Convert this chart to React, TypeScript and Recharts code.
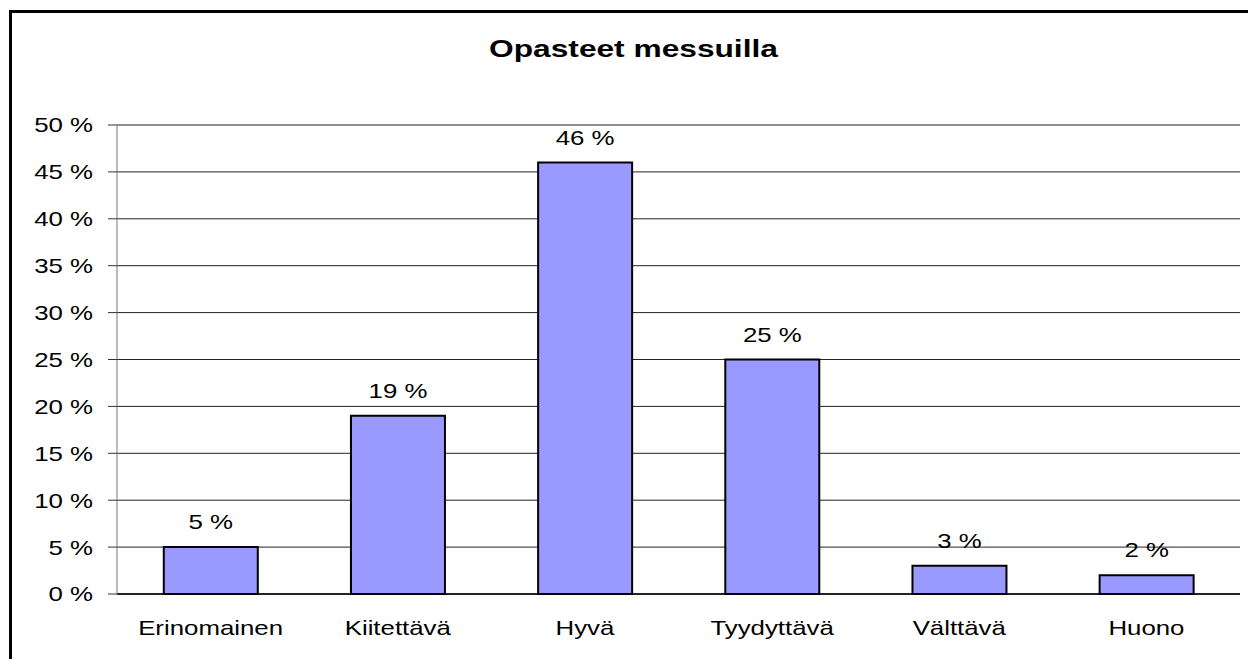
import React from 'react';
import { BarChart, Bar, XAxis, YAxis, CartesianGrid, LabelList } from 'recharts';

const categories = ['Erinomainen', 'Kiitettävä', 'Hyvä', 'Tyydyttävä', 'Välttävä', 'Huono'];
const values = [5, 19, 46, 25, 3, 2];
const yTicks = [0, 5, 10, 15, 20, 25, 30, 35, 40, 45, 50];
const boundaryTicks = [0, 1, 2, 3, 4, 5, 6];
const title = 'Opasteet messuilla';

const data = categories.map((name, i) => ({ name, value: values[i], pos: i + 0.5 }));

const FONT = '"Liberation Sans", Arial, sans-serif';
const FS = 21;
const STRETCH = 1.23;

const pct = (v: number) => `${v} %`;

const StretchText = ({ x, y, anchor, dy, children }: any) => (
  <text
    transform={`translate(${x},${y}) scale(${STRETCH},1)`}
    x={0}
    y={0}
    dy={dy}
    textAnchor={anchor}
    fontSize={FS}
    fontFamily={FONT}
    fill="#000"
  >
    {children}
  </text>
);

const YTick = (props: any) => {
  const { x, y, payload } = props;
  return (
    <StretchText x={x} y={y} anchor="end" dy="0.355em">
      {pct(payload.value)}
    </StretchText>
  );
};

const XTick = (props: any) => {
  const { x, y, payload } = props;
  return (
    <StretchText x={x} y={y} anchor="middle" dy="0.716em">
      {payload.value}
    </StretchText>
  );
};

const BarLabel = (props: any) => {
  const { x, y, width, value } = props;
  return (
    <StretchText x={Number(x) + Number(width) / 2} y={Number(y) - 18} anchor="middle" dy={0}>
      {pct(value)}
    </StretchText>
  );
};

export default function App() {
  return (
    <div
      style={{
        position: 'absolute',
        left: 0,
        top: 0,
        width: 1248,
        height: 659,
        overflow: 'hidden',
        background: '#fff',
        fontFamily: FONT,
      }}
    >
      <div
        style={{
          position: 'absolute',
          left: 9,
          top: 10,
          width: 1400,
          height: 800,
          borderLeft: '3px solid #000',
          borderTop: '3px solid #000',
          boxSizing: 'border-box',
        }}
      />
      <div
        style={{
          position: 'absolute',
          left: 0,
          top: 37,
          width: 1267,
          textAlign: 'center',
          fontSize: 24,
          lineHeight: '24px',
          fontWeight: 'bold',
          fontFamily: FONT,
          color: '#000',
          transform: 'scaleX(1.32)',
          transformOrigin: '633.5px 50%',
          whiteSpace: 'nowrap',
        }}
      >
        {title}
      </div>
      <div style={{ position: 'absolute', left: 0, top: 0 }}>
        <BarChart
          width={1248}
          height={659}
          data={data}
          margin={{ top: 125, right: 8, left: 0, bottom: 63 }}
          barCategoryGap="25%"
          style={{ fontFamily: FONT }}
        >
          <CartesianGrid vertical={false} stroke="#222" strokeWidth={1} />
          <XAxis
            dataKey="name"
            height={1}
            tickLine={false}
            tickSize={0}
            tickMargin={26}
            axisLine={{ stroke: '#000', strokeWidth: 1.5 }}
            tick={<XTick />}
            interval={0}
          />
          <XAxis
            xAxisId="num"
            dataKey="pos"
            type="number"
            domain={[0, 6]}
            ticks={boundaryTicks}
            allowDataOverflow
            height={1}
            axisLine={false}
            tickSize={7}
            tickLine={{ stroke: '#555' }}
            tick={false}
          />
          <YAxis
            width={117}
            domain={[0, 50]}
            ticks={yTicks}
            interval={0}
            tickSize={9}
            tickMargin={15}
            axisLine={{ stroke: '#777' }}
            tickLine={{ stroke: '#333' }}
            tick={<YTick />}
          />
          <Bar dataKey="value" fill="#9999FF" stroke="#000" strokeWidth={2} isAnimationActive={false}>
            <LabelList dataKey="value" content={<BarLabel />} />
          </Bar>
        </BarChart>
      </div>
    </div>
  );
}
